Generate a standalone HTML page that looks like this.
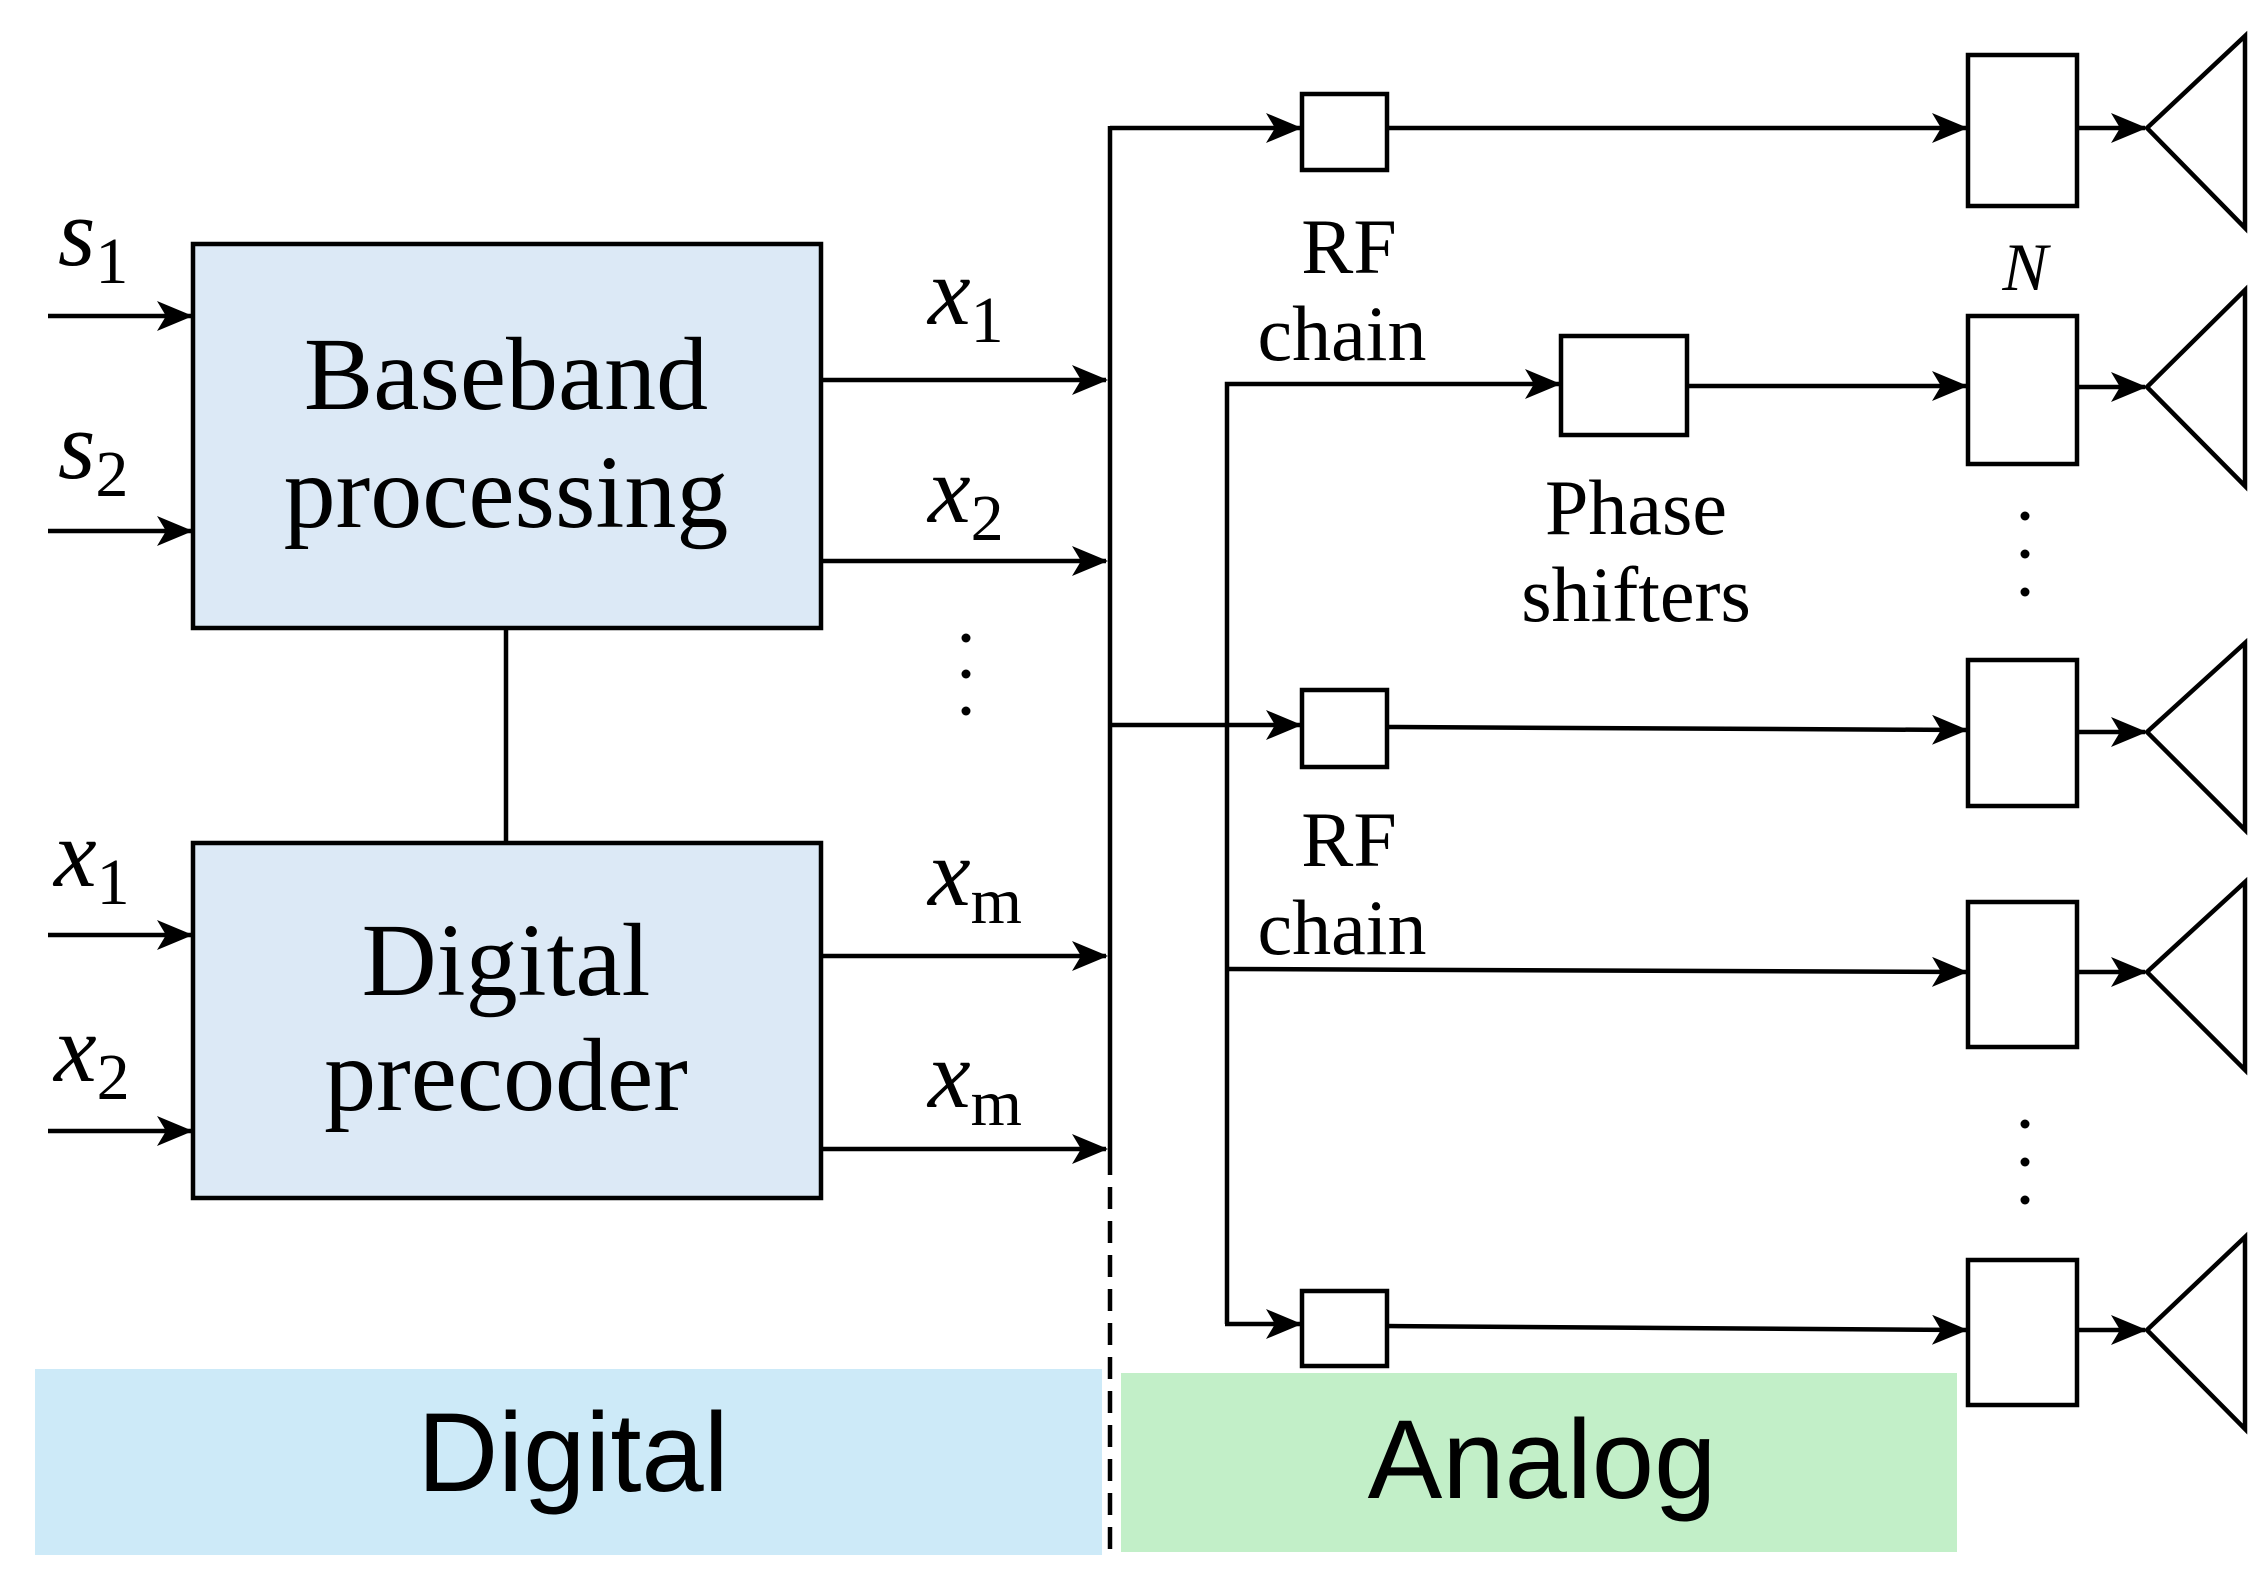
<!DOCTYPE html>
<html><head><meta charset="utf-8"><style>
html,body{margin:0;padding:0;background:#fff;}
svg{display:block;}
.serif{font-family:"Liberation Serif",serif;}
.it{font-family:"Liberation Serif",serif;font-style:italic;}
.sans{font-family:"Liberation Sans",sans-serif;}
</style></head><body>
<svg width="2267" height="1578" viewBox="0 0 2267 1578" xmlns="http://www.w3.org/2000/svg">
<defs>
<marker id="b" markerWidth="36" markerHeight="30" refX="34" refY="15" orient="auto" markerUnits="userSpaceOnUse" viewBox="0 0 36 30">
<path d="M0,0 L36,15 L0,30 L9,15 Z" fill="#000"/>
</marker>
</defs>
<rect width="2267" height="1578" fill="#fff"/>
<rect x="35" y="1369" width="1067" height="186" fill="#cdeaf8"/>
<rect x="1121" y="1373" width="836" height="179" fill="#c2efc8"/>
<text x="573" y="1491" class="sans" font-size="112" text-anchor="middle">Digital</text>
<text x="1542" y="1498" class="sans" font-size="112" text-anchor="middle">Analog</text>

<g stroke="#000" stroke-width="4.5" fill="none">
<rect x="193" y="244" width="628" height="384" fill="#dce9f6"/>
<rect x="193" y="843" width="628" height="355" fill="#dce9f6"/>
<line x1="506" y1="628" x2="506" y2="843"/>
<line x1="48" y1="316" x2="191" y2="316" marker-end="url(#b)"/>
<line x1="48" y1="531" x2="191" y2="531" marker-end="url(#b)"/>
<line x1="48" y1="935" x2="191" y2="935" marker-end="url(#b)"/>
<line x1="48" y1="1131" x2="191" y2="1131" marker-end="url(#b)"/>
<line x1="821" y1="380" x2="1106" y2="380" marker-end="url(#b)"/>
<line x1="821" y1="561" x2="1106" y2="561" marker-end="url(#b)"/>
<line x1="821" y1="956" x2="1106" y2="956" marker-end="url(#b)"/>
<line x1="821" y1="1149" x2="1106" y2="1149" marker-end="url(#b)"/>
<line x1="1110" y1="126" x2="1110" y2="1153"/>
<line x1="1110" y1="1153" x2="1110" y2="1559" stroke-dasharray="22,12"/>
<polyline points="1110,128 1300,128" marker-end="url(#b)"/>
<rect x="1302" y="94" width="85" height="76"/>
<line x1="1387" y1="128" x2="1966" y2="128" marker-end="url(#b)"/>
<rect x="1968" y="55" width="109" height="151"/>
<line x1="2077" y1="128" x2="2145" y2="128" marker-end="url(#b)"/>
<polygon points="2147,128 2245,36 2245,228"/>
<polyline points="1227,1324 1227,384 1559,384" marker-end="url(#b)"/>
<line x1="1225" y1="1324" x2="1300" y2="1324" marker-end="url(#b)"/>
<rect x="1561" y="336" width="126" height="99"/>
<line x1="1687" y1="386" x2="1966" y2="386" marker-end="url(#b)"/>
<rect x="1968" y="316" width="109" height="148"/>
<line x1="2077" y1="387" x2="2145" y2="387" marker-end="url(#b)"/>
<polygon points="2147,387 2245,290 2245,486"/>
<line x1="1110" y1="725" x2="1300" y2="725" marker-end="url(#b)"/>
<rect x="1302" y="690" width="85" height="77"/>
<line x1="1387" y1="727" x2="1966" y2="730" marker-end="url(#b)"/>
<rect x="1968" y="660" width="109" height="146"/>
<line x1="2077" y1="732" x2="2145" y2="732" marker-end="url(#b)"/>
<polygon points="2147,732 2245,643 2245,830"/>
<line x1="1227" y1="969" x2="1966" y2="972" marker-end="url(#b)"/>
<rect x="1968" y="902" width="109" height="145"/>
<line x1="2077" y1="972" x2="2145" y2="972" marker-end="url(#b)"/>
<polygon points="2147,972 2245,882 2245,1070"/>
<rect x="1302" y="1291" width="85" height="75"/>
<line x1="1387" y1="1326" x2="1966" y2="1330" marker-end="url(#b)"/>
<rect x="1968" y="1260" width="109" height="145"/>
<line x1="2077" y1="1330" x2="2145" y2="1330" marker-end="url(#b)"/>
<polygon points="2147,1330 2245,1237 2245,1429"/>
</g>
<g fill="#000">
<circle cx="966" cy="638" r="4.5"/><circle cx="966" cy="674" r="4.5"/><circle cx="966" cy="711" r="4.5"/>
<circle cx="2025" cy="516" r="4.5"/><circle cx="2025" cy="554" r="4.5"/><circle cx="2025" cy="592" r="4.5"/>
<circle cx="2025" cy="1124" r="4.5"/><circle cx="2025" cy="1162" r="4.5"/><circle cx="2025" cy="1200" r="4.5"/>
</g>
<g class="serif" font-size="104" text-anchor="middle">
<text x="506" y="409">Baseband</text>
<text x="506" y="527">processing</text>
<text x="506" y="995">Digital</text>
<text x="506" y="1110">precoder</text>
</g>
<g class="serif" font-size="78" text-anchor="middle">
<text x="1349" y="273">RF</text>
<text x="1342" y="360">chain</text>
<text x="1349" y="866">RF</text>
<text x="1342" y="954">chain</text>
<text x="1636" y="534">Phase</text>
<text x="1636" y="621">shifters</text>
</g>
<text x="2025" y="290" class="it" font-size="68" text-anchor="middle">N</text>
<g class="it" font-size="96">
<text x="58" y="265">s<tspan font-style="normal" font-size="66" dy="18">1</tspan></text>
<text x="58" y="478">s<tspan font-style="normal" font-size="66" dy="18">2</tspan></text>
<text x="54" y="886">x<tspan font-style="normal" font-size="66" dy="18">1</tspan></text>
<text x="54" y="1081">x<tspan font-style="normal" font-size="66" dy="18">2</tspan></text>
<text x="928" y="324">x<tspan font-style="normal" font-size="66" dy="18">1</tspan></text>
<text x="928" y="522">x<tspan font-style="normal" font-size="66" dy="18">2</tspan></text>
<text x="928" y="905">x<tspan font-style="normal" font-size="66" dy="18">m</tspan></text>
<text x="928" y="1107">x<tspan font-style="normal" font-size="66" dy="18">m</tspan></text>
</g>
</svg>
</body></html>
